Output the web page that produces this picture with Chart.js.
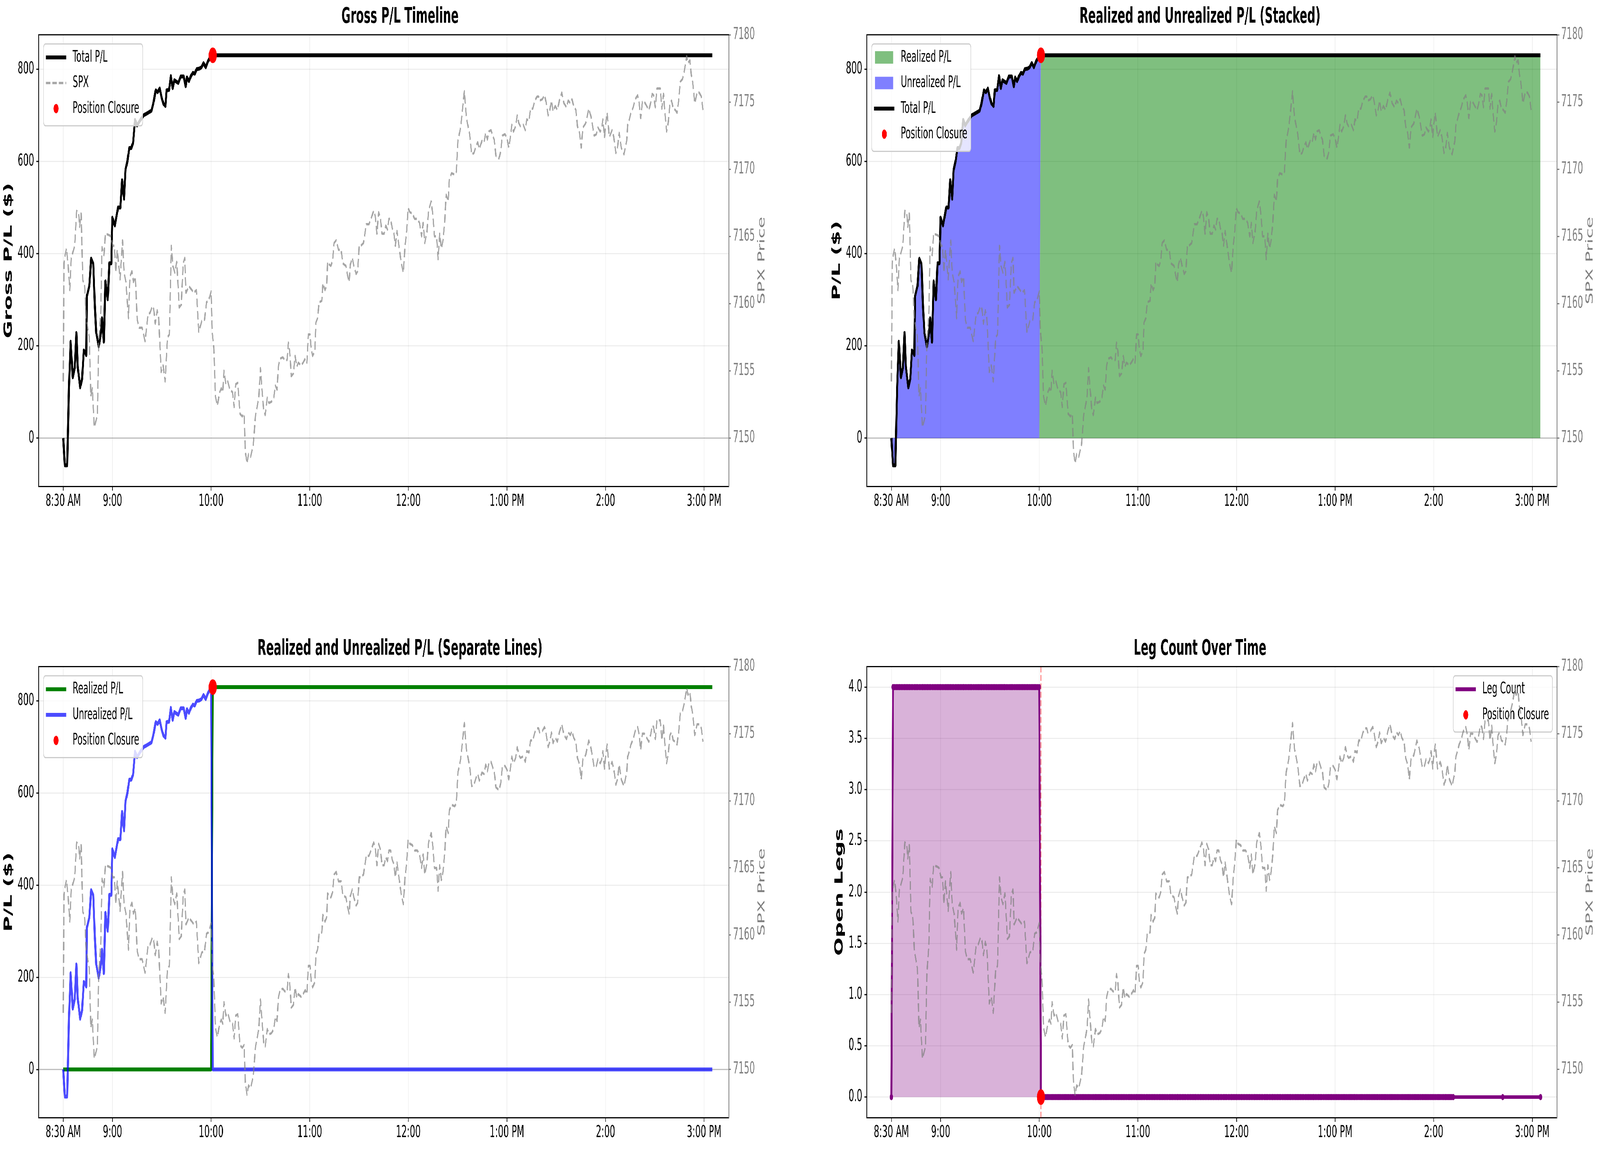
<!DOCTYPE html>
<html>
<head>
<meta charset="utf-8">
<script src="https://cdn.jsdelivr.net/npm/chart.js@4.4.1/dist/chart.umd.min.js"></script>
<style>
  html, body { margin: 0; padding: 0; background: #fff; overflow: hidden; }
  body { position: relative; }
  #fig { position: absolute; left: 0; top: 0; width: 7840px; height: 2944px; transform-origin: 0 0; }
  canvas { position: absolute; width: 3920px; height: 1472px; }
</style>
</head>
<body>
<div id="fig">
  <canvas id="gross" width="3920" height="1472" style="left:0;top:0"></canvas>
  <canvas id="stacked" width="3920" height="1472" style="left:3920px;top:0"></canvas>
  <canvas id="separate" width="3920" height="1472" style="left:0;top:1472px"></canvas>
  <canvas id="legs" width="3920" height="1472" style="left:3920px;top:1472px"></canvas>
</div>
<script>
// all times are minutes after the 8:30 open
const xTickMinutes = [0, 30, 90, 150, 210, 270, 330, 390];
const xTickLabels = ['8:30 AM', '9:00', '10:00', '11:00', '12:00', '1:00 PM', '2:00', '3:00 PM'];
const plTicks = [0, 200, 400, 600, 800];
const legTicks = [0, 0.5, 1, 1.5, 2, 2.5, 3, 3.5, 4];
const spxTicks = [7150, 7155, 7160, 7165, 7170, 7175, 7180];

// P/L while the position is open
const openMinutes = [
  0, 1, 2.4, 3.5, 4.5, 5.8, 7, 8, 8.8, 10.3,
  11.5, 12.5, 13.2, 14, 14.4, 15.9, 17, 18.3, 19.2, 20.1,
  21.6, 22.8, 23.6, 24.7, 25.7, 27.1, 28.1, 29.3, 29.9, 31.4,
  33.4, 34.8, 35.8, 37, 37.9, 39.1, 40.2, 41.4, 42.5, 43.7,
  44.9, 47, 49, 51.9, 53.7, 54.8, 56.3, 57.5, 58.7, 59.9,
  61, 62.2, 62.9, 64.4, 65.5, 66.6, 67.6, 70, 71.5, 73.3,
  74.5, 75.3, 76.5, 77.7, 78.9, 80, 81.2, 82.8, 84.1, 85.4,
  86.7, 88.1, 90
];
const openPL = [
  0, -59, -59, 110, 209, 132, 152, 228, 155, 110,
  129, 190, 187, 180, 308, 330, 389, 378, 289, 228,
  199, 225, 260, 209, 340, 301, 379, 379, 478, 461,
  500, 500, 559, 519, 582, 601, 629, 629, 640, 690,
  678, 690, 700, 706, 710, 725, 754, 750, 758, 738,
  725, 720, 754, 755, 785, 759, 776, 770, 784, 784,
  763, 782, 774, 785, 792, 790, 800, 801, 804, 813,
  804, 817, 829
];
const closeMinute = 91;   // 10:01
const closePL = 830;
const endMinute = 395;    // 3:05

// open legs, sampled once a minute
const legSegments = [
  { from: 0, to: 0, legs: 0 },
  { from: 1, to: 90, legs: 4 },
  { from: 91, to: 342, legs: 0 },
  { from: 372, to: 372, legs: 0 },
  { from: 395, to: 395, legs: 0 }
];

const spxMinutes = [
  0, 0.5, 1.1, 2.0, 2.9, 4.0, 4.9, 7.0, 8.2, 9.4,
  10.0, 10.9, 11.9, 13.0, 14.0, 15.9, 16.8, 17.7, 18.9, 20.8,
  21.6, 22.8, 23.6, 24.8, 25.7, 27.8, 29.0, 30.2, 31.1, 32.0,
  32.9, 34.6, 36.1, 37.0, 38.2, 39.7, 40.6, 41.8, 42.7, 43.9,
  45.0, 46.2, 48.0, 49.8, 51.6, 52.8, 54.2, 55.1, 56.0, 57.2,
  58.1, 59.6, 60.8, 62.0, 63.5, 64.6, 65.8, 66.7, 67.9, 69.1,
  70.6, 71.8, 73.0, 74.0, 74.7, 76.5, 78.3, 79.5, 81.0, 82.5,
  84.3, 86.0, 87.2, 88.4, 90.0,
  90.7, 91.7, 92.6, 93.8, 95.2, 96.2, 97.1, 97.8, 99.0, 100.1,
  101.4, 103.0, 104.0, 105.0, 106.2, 107.6, 108.9, 110.1, 110.8, 111.8,
  112.8, 114.0, 115.7, 117.0, 118.0, 119.0, 120.0, 121.0, 122.0, 122.9,
  124.2, 125.2, 126.8, 128.1, 129.1, 130.1, 131.0, 132.0, 133.6, 134.9,
  136.2, 137.0, 137.8, 138.8, 140.1, 141.1, 142.1, 143.1, 144.7, 146.0,
  147.3, 148.3, 149.2, 150.2, 150.9, 151.8, 153.1, 153.8, 154.8, 155.7,
  157.4, 158.0, 159.3, 160.3, 160.9, 161.9, 162.9, 163.9, 164.8, 166.1,
  167.5, 169.1, 170.1, 172.0, 173.0, 174.0, 174.7, 175.9, 176.9, 178.2,
  179.2, 180.1, 181.1, 182.7, 184.4, 186.0, 187.3, 188.9, 189.9, 190.9,
  191.9, 193.0, 194.0, 195.3, 196.3, 197.3, 198.2, 199.2, 200.2, 201.2,
  202.1, 203.1, 204.1, 205.7, 207.0, 208.0, 209.0, 209.9, 210.9, 212.5,
  213.8, 215.5, 216.8, 218.1, 219.0, 220.0, 221.3, 222.3, 223.9, 224.9,
  225.9, 227.2, 228.1, 229.1, 230.1, 231.1, 232.1, 233.0, 234.3, 235.0,
  236.3, 238.2, 239.2, 240.2, 241.8, 242.8, 244.1, 244.7, 245.4, 247.3,
  248.6, 249.9, 251.2, 252.2, 253.2, 254.8, 256.1, 257.1, 258.1, 259.0,
  260.3, 261.6, 262.3, 263.3, 265.2, 266.2, 267.2, 268.8, 270.1, 271.1,
  272.1, 273.0, 274.0, 275.3, 276.3, 277.3, 278.2, 279.9, 281.2, 282.1,
  283.4, 284.4, 285.7, 287.0, 288.3, 289.3, 289.9,
  291.5, 292.9, 293.8, 295.1, 296.1, 297.1, 298.1, 299.4, 300.7, 302.1,
  303.4, 304.7, 306.3, 307.3, 308.6, 309.6, 310.6, 312.0, 312.9, 314.2,
  315.2, 316.2, 317.9, 319.8, 321.2, 323.1, 324.4, 325.4, 326.8, 327.7,
  328.4, 329.4, 330.0, 331.0, 332.3, 334.0, 335.0, 336.3, 337.3, 338.3,
  339.6, 341.2, 342.9, 343.5, 344.5, 345.5, 346.8, 348.1, 349.5, 350.4,
  351.4, 352.4, 353.7, 355.0, 356.4, 357.4, 358.4, 359.3, 360.3, 361.3,
  363.3, 364.3, 365.3, 365.9, 367.2, 368.2, 369.2, 370.2, 371.2, 372.5,
  373.5, 374.5, 375.5, 376.8, 377.8, 378.8, 379.4, 380.1, 381.4, 382.1,
  383.0, 383.7, 384.3, 385.7, 387.0, 388.3, 389.3
];
const spxPrice = [
  7154.2, 7163.0, 7163.6, 7164.1, 7163.0, 7161.0, 7163.4, 7164.3, 7166.9, 7166.7,
  7165.7, 7166.7, 7161.7, 7161.5, 7158.8, 7157.5, 7153.1, 7153.7, 7150.8, 7151.7,
  7157.1, 7159.3, 7164.2, 7163.6, 7165.2, 7165.1, 7165.0, 7164.3, 7164.3, 7162.3,
  7164.0, 7161.8, 7164.7, 7162.3, 7161.6, 7158.9, 7162.0, 7162.4, 7161.6, 7162.0,
  7158.8, 7158.2, 7158.2, 7157.2, 7159.2, 7159.3, 7159.8, 7159.6, 7158.5, 7159.5,
  7158.9, 7154.9, 7155.4, 7154.2, 7157.5, 7157.7, 7164.3, 7162.8, 7162.3, 7163.1,
  7159.7, 7159.9, 7163.0, 7163.4, 7160.8, 7161.3, 7161.0, 7160.8, 7161.0, 7157.9,
  7158.7, 7158.8, 7160.1, 7160.2, 7160.9,
  7157.9, 7156.6, 7153.1, 7152.4, 7153.4, 7153.7, 7153.4, 7155.0, 7154.0, 7154.2,
  7153.6, 7153.4, 7152.3, 7154.0, 7154.1, 7151.8, 7151.6, 7151.8, 7149.0, 7148.1,
  7148.8, 7148.6, 7149.5, 7151.7, 7152.3, 7153.0, 7155.2, 7153.6, 7152.0, 7151.7,
  7153.0, 7152.6, 7152.7, 7153.0, 7153.9, 7153.6, 7155.4, 7155.9, 7156.0, 7155.8,
  7155.8, 7157.1, 7156.5, 7154.6, 7154.8, 7156.1, 7155.3, 7155.6, 7155.4, 7155.6,
  7155.9, 7155.6, 7157.7, 7157.7, 7156.6, 7156.1, 7156.5, 7158.6, 7158.9, 7160.1,
  7160.2, 7161.5, 7161.0, 7161.3, 7163.1, 7162.9, 7162.8, 7163.2, 7164.5, 7164.7,
  7164.0, 7164.0, 7163.0, 7162.8, 7162.1, 7161.6, 7162.9, 7163.4, 7162.8, 7162.2,
  7162.4, 7164.3, 7164.3, 7164.5, 7165.9, 7165.9, 7166.3, 7166.9, 7166.5, 7165.2,
  7166.8, 7166.4, 7165.2, 7165.2, 7165.8, 7165.5, 7166.3, 7166.3, 7165.6, 7165.3,
  7164.3, 7165.4, 7164.5, 7163.0, 7162.3, 7164.3, 7165.4, 7167.1, 7166.8, 7166.7,
  7166.3, 7166.3, 7166.0, 7165.0, 7166.0, 7164.5, 7165.3, 7166.9, 7167.6, 7166.6,
  7165.0, 7165.0, 7163.3, 7165.2, 7164.1, 7164.7, 7166.0, 7168.1, 7167.6, 7169.3,
  7169.7, 7169.6, 7169.8, 7172.1, 7173.1, 7174.2, 7175.8, 7174.8, 7173.8, 7172.6,
  7171.1, 7171.2, 7171.7, 7172.0, 7171.5, 7172.1, 7172.0, 7172.7, 7172.2, 7172.8,
  7172.9, 7172.4, 7172.2, 7171.0, 7170.8, 7171.3, 7172.5, 7172.6, 7172.3, 7171.6,
  7172.4, 7173.3, 7172.8, 7173.2, 7174.0, 7173.4, 7173.2, 7173.3, 7172.9, 7173.7,
  7173.6, 7174.5, 7174.5, 7175.1, 7175.4, 7175.4, 7175.1,
  7175.2, 7175.5, 7175.0, 7174.0, 7174.4, 7175.1, 7174.3, 7174.7, 7174.4, 7175.2,
  7175.7, 7174.9, 7174.6, 7175.1, 7174.9, 7175.2, 7174.7, 7174.4, 7173.2, 7172.7,
  7171.6, 7173.1, 7173.4, 7174.5, 7173.9, 7172.5, 7172.6, 7173.1, 7172.8, 7173.1,
  7173.7, 7172.4, 7173.3, 7174.2, 7172.4, 7172.9, 7172.4, 7171.2, 7171.6, 7172.7,
  7171.6, 7171.1, 7172.1, 7173.3, 7173.7, 7174.2, 7174.6, 7175.2, 7175.5, 7175.0,
  7173.8, 7175.0, 7175.0, 7174.7, 7174.4, 7174.9, 7175.6, 7175.5, 7174.6, 7176.0,
  7176.0, 7174.5, 7175.6, 7174.5, 7172.8, 7173.5, 7174.9, 7175.1, 7174.5, 7174.4,
  7174.2, 7175.1, 7176.5, 7176.7, 7177.2, 7177.9, 7178.4, 7177.9, 7178.1, 7177.1,
  7176.5, 7175.7, 7174.9, 7175.7, 7175.7, 7175.4, 7174.4
];

// the figure is laid out at 7840x2944; stretch it onto the actual window
(function fitFigure() {
  const w = window.innerWidth || 7840, h = window.innerHeight || 2944;
  const sx = w / 7840, sy = h / 2944;
  document.getElementById('fig').style.transform = 'scale(' + sx + ',' + sy + ')';
  document.body.style.width = w + 'px';
  document.body.style.height = h + 'px';
})();

// ---- build the point lists the library needs ----
const pts = (xs, ys) => xs.map((x, i) => ({ x: x, y: ys[i] }));
const totalData = pts(openMinutes, openPL).concat([{ x: closeMinute, y: closePL }, { x: endMinute, y: closePL }]);
const unrealizedData = pts(openMinutes, openPL).concat([{ x: closeMinute, y: 0 }, { x: endMinute, y: 0 }]);
const realizedData = [
  { x: openMinutes[0], y: 0 }, { x: openMinutes[openMinutes.length - 1], y: 0 },
  { x: closeMinute, y: closePL }, { x: endMinute, y: closePL }
];
const spxData = pts(spxMinutes, spxPrice);
const legData = [];
legSegments.forEach(s => { for (let m = s.from; m <= s.to; m++) legData.push({ x: m, y: s.legs }); });

const GRAY_SPX = 'rgba(128,128,128,0.7)';
const GRID = 'rgba(0,0,0,0.08)';
const FONT = '"DejaVu Sans", sans-serif';
Chart.defaults.font.family = FONT;
Chart.defaults.color = '#000';

function lineSet(label, data, color, width, order, extra) {
  return Object.assign({
    label: label, data: data, borderColor: color, borderWidth: width, order: order,
    pointRadius: 0, tension: 0, fill: false, yAxisID: 'y',
    borderJoinStyle: 'round', borderCapStyle: 'butt'
  }, extra || {});
}
function spxSet() {
  return lineSet('SPX', spxData, GRAY_SPX, 6, 1, { yAxisID: 'y2', borderDash: [22, 10] });
}
function closureSet(y) {
  return {
    label: 'Position Closure', data: [{ x: closeMinute, y: y }], showLine: false, order: 2,
    pointRadius: 20, pointBackgroundColor: '#ff0000', pointBorderWidth: 0, yAxisID: 'y'
  };
}

function roundRectPath(ctx, x, y, w, h, r) {
  ctx.beginPath();
  ctx.moveTo(x + r, y);
  ctx.arcTo(x + w, y, x + w, y + h, r);
  ctx.arcTo(x + w, y + h, x, y + h, r);
  ctx.arcTo(x, y + h, x, y, r);
  ctx.arcTo(x, y, x + w, y, r);
  ctx.closePath();
}

function drawLegend(chart, spec) {
  const ctx = chart.ctx, a = chart.chartArea, items = spec.legend;
  ctx.save();
  ctx.font = '41px ' + FONT;
  const textW = Math.max.apply(null, items.map(it => ctx.measureText(it.label).width));
  const w = 142.5 + textW + 17;
  const h = 13 + 65.5 * items.length;
  const x = spec.legendRight ? a.right - 22 - w : a.left + 24.5;
  const y = a.top + 23.5;
  roundRectPath(ctx, x, y, w, h, 10);
  ctx.fillStyle = 'rgba(255,255,255,0.8)';
  ctx.fill();
  ctx.strokeStyle = '#cccccc';
  ctx.lineWidth = 3;
  ctx.stroke();
  items.forEach((it, i) => {
    const cy = y + 34.5 + 65.5 * i;
    if (it.kind === 'line') {
      ctx.strokeStyle = it.color;
      ctx.lineWidth = it.width;
      ctx.setLineDash(it.dash || []);
      ctx.beginPath();
      ctx.moveTo(x + 11, cy);
      ctx.lineTo(x + 111, cy);
      ctx.stroke();
      ctx.setLineDash([]);
    } else if (it.kind === 'box') {
      ctx.fillStyle = it.color;
      ctx.fillRect(x + 16, cy - 16, 89, 32);
    } else {
      ctx.fillStyle = '#ff0000';
      ctx.beginPath();
      ctx.arc(x + 61.5, cy, 12, 0, Math.PI * 2);
      ctx.fill();
    }
    ctx.fillStyle = '#000';
    ctx.textAlign = 'left';
    ctx.textBaseline = 'middle';
    ctx.fillText(it.label, x + 142.5, cy);
  });
  ctx.restore();
}

function decorPlugin(spec) {
  return {
    id: 'decor',
    beforeDatasetsDraw(chart) {
      const ctx = chart.ctx, a = chart.chartArea;
      ctx.save();
      if (spec.zeroLine) {
        const y0 = chart.scales.y.getPixelForValue(0);
        ctx.strokeStyle = 'rgba(128,128,128,0.45)';
        ctx.lineWidth = 3;
        ctx.beginPath(); ctx.moveTo(a.left, y0); ctx.lineTo(a.right, y0); ctx.stroke();
      }
      if (spec.closureLine) {
        const xc = chart.scales.x.getPixelForValue(closeMinute);
        ctx.strokeStyle = 'rgba(255,0,0,0.5)';
        ctx.lineWidth = 4;
        ctx.setLineDash([15, 6.5]);
        ctx.beginPath(); ctx.moveTo(xc, a.top); ctx.lineTo(xc, a.bottom); ctx.stroke();
      }
      ctx.restore();
    },
    beforeDatasetDraw(chart, args) {
      // legend sits on the P/L axes, under the SPX twin-axis line
      if (chart.data.datasets[args.index].yAxisID === 'y2') drawLegend(chart, spec);
    },
    afterDatasetsDraw(chart) {
      const ctx = chart.ctx, a = chart.chartArea;
      ctx.save();
      ctx.strokeStyle = '#000';
      ctx.lineWidth = 3;
      ctx.beginPath(); ctx.moveTo(a.left - 1.5, a.top); ctx.lineTo(a.right + 1.5, a.top); ctx.stroke();
      ctx.restore();
    },
    afterDraw(chart) {
      const ctx = chart.ctx, a = chart.chartArea;
      ctx.save();
      ctx.translate(chart.width - spec.spxTitleOffset, (a.top + a.bottom) / 2);
      ctx.rotate(-Math.PI / 2);
      ctx.font = '48px ' + FONT;
      ctx.fillStyle = '#808080';
      ctx.textAlign = 'center';
      ctx.textBaseline = 'middle';
      ctx.fillText('SPX Price', 0, 0);
      ctx.restore();
    }
  };
}

function makeChart(spec) {
  const tickGrid = { color: GRID, lineWidth: 2.5, tickColor: '#000', tickWidth: 3, tickLength: 11 };
  return new Chart(spec.id, {
    type: 'line',
    data: { datasets: spec.datasets },
    plugins: [decorPlugin(spec)],
    options: {
      responsive: false,
      devicePixelRatio: 1,
      animation: false,
      events: [],
      layout: { padding: { top: spec.padTop, left: 0, right: 0, bottom: 0 } },
      plugins: {
        legend: { display: false },
        tooltip: { enabled: false },
        title: {
          display: true, text: spec.title, color: '#000',
          font: { size: 55, weight: 'bold', lineHeight: 1.2 },
          padding: { top: 11, bottom: 12 }
        }
      },
      scales: {
        x: {
          type: 'linear', min: -15, max: 405,
          afterBuildTicks: s => { s.ticks = xTickMinutes.map(v => ({ value: v })); },
          afterFit: s => { s.height = spec.xHeight; },
          ticks: {
            callback: (v, i) => xTickLabels[i], font: { size: 42 }, color: '#000',
            padding: 3, maxRotation: 0, minRotation: 0, autoSkip: false
          },
          grid: tickGrid,
          border: { color: '#000', width: 3 }
        },
        y: {
          position: 'left', min: spec.yMin, max: spec.yMax,
          afterBuildTicks: s => { s.ticks = spec.yTicks.map(v => ({ value: v })); },
          afterFit: s => { s.width = spec.yWidth; },
          ticks: { callback: spec.yFmt, font: { size: 42 }, color: '#000', padding: 11 },
          grid: tickGrid,
          border: { color: '#000', width: 3 },
          title: {
            display: true, text: spec.yTitle, color: '#000',
            font: { size: 55, weight: 'bold', lineHeight: 1.2 },
            padding: { top: spec.yTitlePad, bottom: 0 }
          }
        },
        y2: {
          position: 'right', min: 7146.4, max: 7180.0,
          afterBuildTicks: s => { s.ticks = spxTicks.map(v => ({ value: v })); },
          afterFit: s => { s.width = spec.y2Width; },
          ticks: { callback: v => String(v), font: { size: 42 }, color: '#808080', padding: 10 },
          grid: { drawOnChartArea: false, tickColor: '#808080', tickWidth: 3, tickLength: 11 },
          border: { color: '#808080', width: 3 }
        }
      }
    }
  });
}

const plFmt = v => String(v);
const dotItem = { label: 'Position Closure', kind: 'dot' };

makeChart({
  id: 'gross', title: 'Gross P/L Timeline', yTitle: 'Gross P/L ($)', yTitlePad: 10,
  yWidth: 189, y2Width: 349, spxTitleOffset: 186, padTop: 0, xHeight: 227,
  yMin: -104.5, yMax: 874.5, yTicks: plTicks, yFmt: plFmt, zeroLine: true,
  legend: [
    { label: 'Total P/L', kind: 'line', color: '#000', width: 10 },
    { label: 'SPX', kind: 'line', color: GRAY_SPX, width: 6, dash: [22, 10] },
    dotItem
  ],
  datasets: [
    lineSet('Total P/L', totalData, '#000', 10, 3),
    closureSet(closePL),
    spxSet()
  ]
});

makeChart({
  id: 'stacked', title: 'Realized and Unrealized P/L (Stacked)', yTitle: 'P/L ($)', yTitlePad: 148,
  yWidth: 327, y2Width: 211, spxTitleOffset: 48, padTop: 0, xHeight: 227,
  yMin: -104.5, yMax: 874.5, yTicks: plTicks, yFmt: plFmt, zeroLine: true,
  legend: [
    { label: 'Realized P/L', kind: 'box', color: 'rgba(0,128,0,0.5)' },
    { label: 'Unrealized P/L', kind: 'box', color: 'rgba(0,0,255,0.5)' },
    { label: 'Total P/L', kind: 'line', color: '#000', width: 10 },
    dotItem
  ],
  datasets: [
    lineSet('Realized P/L', realizedData, 'rgba(0,0,0,0)', 1, 5, { fill: 'origin', backgroundColor: 'rgba(0,128,0,0.5)' }),
    lineSet('Unrealized P/L', totalData, 'rgba(0,0,0,0)', 1, 4, { fill: 0, backgroundColor: 'rgba(0,0,255,0.5)' }),
    lineSet('Total P/L', totalData, '#000', 10, 3),
    closureSet(closePL),
    spxSet()
  ]
});

makeChart({
  id: 'separate', title: 'Realized and Unrealized P/L (Separate Lines)', yTitle: 'P/L ($)', yTitlePad: 11,
  yWidth: 189, y2Width: 349, spxTitleOffset: 186, padTop: 145.5, xHeight: 83,
  yMin: -104.5, yMax: 874.5, yTicks: plTicks, yFmt: plFmt, zeroLine: true,
  legend: [
    { label: 'Realized P/L', kind: 'line', color: '#008000', width: 10 },
    { label: 'Unrealized P/L', kind: 'line', color: 'rgba(0,0,255,0.7)', width: 10 },
    dotItem
  ],
  datasets: [
    lineSet('Realized P/L', realizedData, '#008000', 10, 4),
    lineSet('Unrealized P/L', unrealizedData, 'rgba(0,0,255,0.7)', 10, 3),
    closureSet(closePL),
    spxSet()
  ]
});

makeChart({
  id: 'legs', title: 'Leg Count Over Time', yTitle: 'Open Legs', yTitlePad: 161,
  yWidth: 327, y2Width: 211, spxTitleOffset: 48, padTop: 145.5, xHeight: 83,
  yMin: -0.2, yMax: 4.2, yTicks: legTicks, yFmt: v => v.toFixed(1), zeroLine: false, closureLine: true,
  legendRight: true,
  legend: [
    { label: 'Leg Count', kind: 'line', color: '#800080', width: 10 },
    dotItem
  ],
  datasets: [
    lineSet('Leg Count', legData, '#800080', 9, 3, {
      fill: 'origin', backgroundColor: 'rgba(128,0,128,0.3)',
      pointRadius: 8, pointBackgroundColor: '#800080', pointBorderWidth: 0
    }),
    closureSet(0),
    spxSet()
  ]
});
</script>
</body>
</html>
